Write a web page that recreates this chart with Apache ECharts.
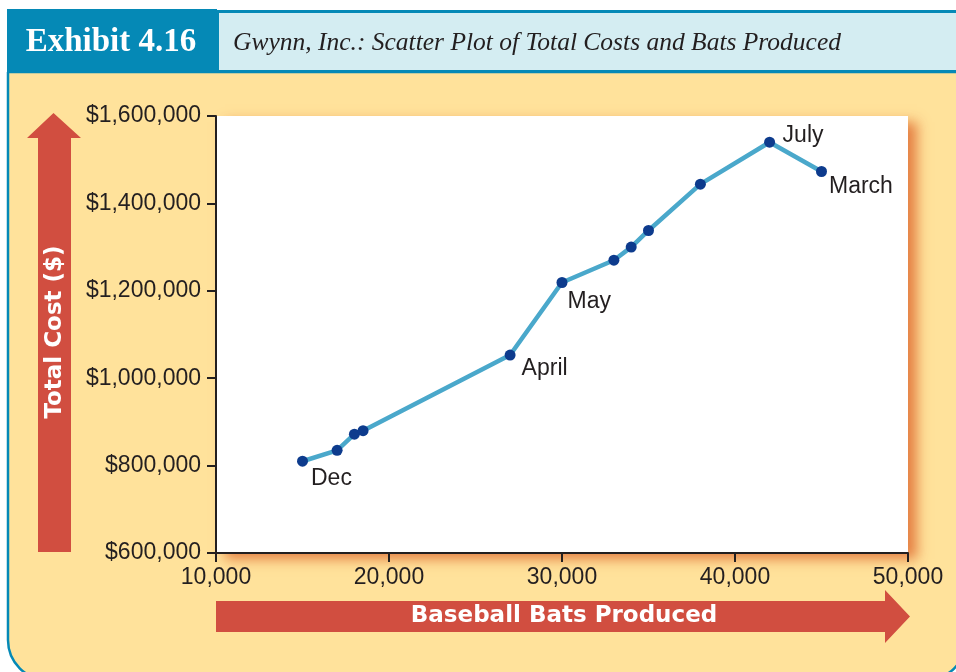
<!DOCTYPE html>
<html>
<head>
<meta charset="utf-8">
<title>Gwynn, Inc.: Scatter Plot of Total Costs and Bats Produced</title>
<script src="https://cdn.jsdelivr.net/npm/echarts@6/dist/echarts.min.js"></script>
<style>
  html, body { margin: 0; padding: 0; background: #ffffff; }
  #chart { width: 956px; height: 672px; }
</style>
</head>
<body>
<div id="chart"></div>
<script>
// Monthly observations: baseball bats produced and total cost ($)
const batsProduced = [15000, 17000, 18000, 18500, 27000, 30000, 33000, 34000, 35000, 38000, 42000, 45000];
const totalCost = [810000, 835000, 872000, 880000, 1053000, 1219000, 1270000, 1300000, 1338000, 1444000, 1540000, 1473000];
const monthLabels = ['Dec', '', '', '', 'April', 'May', '', '', '', '', 'July', 'March'];

// Axis ranges and tick labels
const xTicks = [10000, 20000, 30000, 40000, 50000];
const yTicks = [600000, 800000, 1000000, 1200000, 1400000, 1600000];

const exhibitTitle = 'Exhibit 4.16';
const chartTitle = 'Gwynn, Inc.: Scatter Plot of Total Costs and Bats Produced';
const xAxisTitle = 'Baseball Bats Produced';
const yAxisTitle = 'Total Cost ($)';

// Where each month name sits next to its point: [dx, dy] in pixels
const labelOffsets = {
  Dec: [3, 17.5],
  April: [6, 14],
  May: [0, 19.5],
  July: [7.5, -7],
  March: [2, 15.5]
};

const COLORS = {
  panel: '#ffe29b',
  teal: '#0589b6',
  headerLight: '#d4edf2',
  arrow: '#d14e40',
  line: '#4aa8cb',
  dot: '#0d3b8d',
  ink: '#231f20'
};

const fmt = v => v.toLocaleString('en-US');

const seriesData = batsProduced.map((x, i) => {
  const item = { value: [x, totalCost[i]] };
  const name = monthLabels[i];
  if (name) {
    item.name = name;
    item.label = {
      show: true,
      position: 'right',
      distance: 0,
      offset: labelOffsets[name],
      align: 'left',
      verticalAlign: 'middle',
      formatter: name,
      color: COLORS.ink,
      fontFamily: 'Liberation Sans, Arial, sans-serif',
      fontSize: 23
    };
  }
  return item;
});

const chart = echarts.init(document.getElementById('chart'), null, { renderer: 'canvas' });

chart.setOption({
  backgroundColor: '#ffffff',
  animation: false,
  grid: {
    left: 216, right: 48, top: 116, bottom: 119,
    show: true,
    z: 1,
    backgroundColor: '#ffffff',
    borderWidth: 0,
    shadowBlur: 12,
    shadowColor: 'rgba(226, 118, 58, 0.9)',
    shadowOffsetX: 9,
    shadowOffsetY: 6
  },
  xAxis: {
    type: 'value',
    z: 2,
    min: xTicks[0],
    max: xTicks[xTicks.length - 1],
    interval: xTicks[1] - xTicks[0],
    splitLine: { show: false },
    axisLine: { show: true, onZero: false, lineStyle: { color: COLORS.ink, width: 2 } },
    axisTick: { show: true, length: 9, lineStyle: { color: COLORS.ink, width: 2 } },
    axisLabel: {
      margin: 13,
      color: COLORS.ink,
      fontFamily: 'Liberation Sans, Arial, sans-serif',
      fontSize: 23,
      formatter: v => fmt(v)
    }
  },
  yAxis: {
    type: 'value',
    z: 2,
    min: yTicks[0],
    max: yTicks[yTicks.length - 1],
    interval: yTicks[1] - yTicks[0],
    splitLine: { show: false },
    axisLine: { show: true, onZero: false, lineStyle: { color: COLORS.ink, width: 2 } },
    axisTick: { show: true, length: 9, lineStyle: { color: COLORS.ink, width: 2 } },
    axisLabel: {
      margin: 15,
      padding: [6, 0, 0, 0],
      color: COLORS.ink,
      fontFamily: 'Liberation Sans, Arial, sans-serif',
      fontSize: 23,
      formatter: v => '$' + fmt(v)
    }
  },
  series: [{
    type: 'line',
    z: 3,
    data: seriesData,
    symbol: 'circle',
    symbolSize: 11,
    showAllSymbol: true,
    lineStyle: { color: COLORS.line, width: 4.5 },
    itemStyle: { color: COLORS.dot, borderWidth: 0 },
    label: { show: false },
    emphasis: { disabled: true }
  }],
  graphic: [
    // Beige panel with teal outline and rounded lower corners
    {
      type: 'rect', z: 0, silent: true,
      shape: { x: 8, y: 72, width: 958, height: 608, r: [0, 0, 40, 40] },
      style: { fill: COLORS.panel, stroke: COLORS.teal, lineWidth: 2.5 }
    },
    // Exhibit number tab
    {
      type: 'rect', z: 0, silent: true,
      shape: { x: 7, y: 9, width: 210, height: 64 },
      style: { fill: COLORS.teal }
    },
    {
      type: 'text', z: 0, silent: true,
      x: 111, y: 42,
      style: {
        text: exhibitTitle,
        fill: '#ffffff',
        font: 'bold 33px "Liberation Serif", "Times New Roman", serif',
        align: 'center', verticalAlign: 'middle'
      }
    },
    // Title bar
    {
      type: 'rect', z: 0, silent: true,
      shape: { x: 217.5, y: 11.5, width: 760, height: 60 },
      style: { fill: COLORS.headerLight, stroke: COLORS.teal, lineWidth: 3 }
    },
    {
      type: 'text', z: 0, silent: true,
      x: 233, y: 43,
      style: {
        text: chartTitle,
        fill: '#231f20',
        font: 'italic 25.5px "Liberation Serif", "Times New Roman", serif',
        align: 'left', verticalAlign: 'middle'
      }
    },
    // Vertical arrow for the cost axis
    {
      type: 'polygon', z: 0, silent: true,
      shape: { points: [[38, 552], [38, 138], [27, 138], [53.5, 113], [81, 138], [71, 138], [71, 552]] },
      style: { fill: COLORS.arrow }
    },
    {
      type: 'text', z: 1, silent: true,
      x: 55, y: 332, rotation: Math.PI / 2,
      style: {
        text: yAxisTitle,
        fill: '#ffffff',
        font: 'bold 23px "DejaVu Sans", Arial, sans-serif',
        align: 'center', verticalAlign: 'middle'
      }
    },
    // Horizontal arrow for the production axis
    {
      type: 'polygon', z: 0, silent: true,
      shape: { points: [[216, 601], [885, 601], [885, 590], [910, 616.5], [885, 643], [885, 632], [216, 632]] },
      style: { fill: COLORS.arrow }
    },
    {
      type: 'text', z: 1, silent: true,
      x: 564, y: 616,
      style: {
        text: xAxisTitle,
        fill: '#ffffff',
        font: 'bold 23px "DejaVu Sans", Arial, sans-serif',
        align: 'center', verticalAlign: 'middle'
      }
    }
  ]
});
</script>
</body>
</html>
